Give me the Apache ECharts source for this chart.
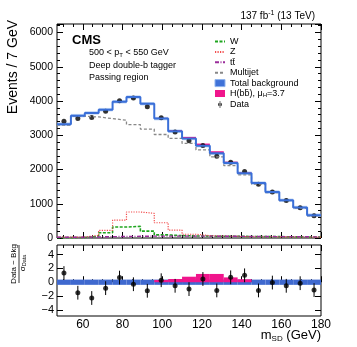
<!DOCTYPE html>
<html>
<head>
<meta charset="utf-8">
<script src="https://cdn.jsdelivr.net/npm/echarts@6/dist/echarts.min.js"></script>
<style>
  html, body { margin: 0; padding: 0; background: #fff; }
  #chart { width: 357px; height: 347px; }
</style>
</head>
<body>
<div id="chart"></div>
<script>
// m_SD bins, 7 GeV wide
const massEdges = [47, 54, 61, 68, 75, 82, 89, 96, 103, 110, 117, 124, 131, 138, 145, 152, 159, 166, 173, 180];
const massCenters = [50.5, 57.5, 64.5, 71.5, 78.5, 85.5, 92.5, 99.5, 106.5, 113.5, 120.5, 127.5, 134.5, 141.5, 148.5, 155.5, 162.5, 169.5, 176.5];

// events per bin
const totalBkg = [3325, 3574, 3652, 3748, 3980, 4116, 3922, 3487, 3120, 2907, 2696, 2473, 2194, 1893, 1603, 1342, 1101, 890, 667];
const bkgUnc   = [50, 50, 50, 50, 50, 50, 50, 50, 50, 50, 50, 50, 50, 50, 50, 50, 50, 50, 50];
const multijet = [3295, 3557, 3536, 3487, 3440, 3313, 3180, 3023, 2907, 2762, 2571, 2368, 2116, 1846, 1574, 1325, 1093, 870, 646];
const wJets    = [10, 15, 50, 155, 320, 340, 200, 90, 70, 60, 55, 50, 50, 45, 40, 40, 35, 30, 30];
const zJets    = [25, 30, 75, 225, 520, 760, 720, 445, 230, 110, 70, 55, 45, 40, 40, 35, 30, 30, 25];
const ttbar    = [20, 25, 30, 40, 45, 50, 55, 55, 55, 55, 55, 50, 50, 45, 45, 40, 40, 35, 30];
const signal   = [0, 0, 0, 0, 0, 0, 0, 20, 28, 45, 62, 60, 35, 20, 0, 0, 0, 0, 0];
const dataEvents = [3410, 3488, 3517, 3700, 4010, 4090, 3830, 3510, 3095, 2840, 2700, 2390, 2215, 1940, 1570, 1340, 1095, 880, 650];

// (data - bkg) / sigma_data
const dataPull   = [1.33, -1.52, -2.29, -0.86, 0.67, -0.29, -1.24, 0.29, -0.52, -1.0, 0.47, -1.19, 0.71, 1.0, -1.19, -0.05, -0.52, -0.14, -1.14];
const pullError  = [1, 1, 1, 1, 1, 1, 1, 1, 1, 1, 1, 1, 1, 1, 1, 1, 1, 1, 1];
const signalPull = [0, 0, 0, 0, 0, 0, 0, 0.33, 0.47, 0.8, 1.2, 1.2, 0.7, 0.43, 0, 0, 0, 0, 0];
const bkgUncPull = [0.38, 0.38, 0.38, 0.38, 0.38, 0.38, 0.38, 0.38, 0.38, 0.38, 0.38, 0.38, 0.38, 0.38, 0.38, 0.38, 0.38, 0.38, 0.38];

// ticks
const xMajor = [60, 80, 100, 120, 140, 160, 180];
const xMinor = [50, 55, 65, 70, 75, 85, 90, 95, 105, 110, 115, 125, 130, 135, 145, 150, 155, 165, 170, 175];
const pullTicks = [-4, -2, 0, 2, 4];

const FONT = 'Liberation Sans, Arial, Helvetica, sans-serif';
const SIG_NAME = 'H(bb\u0304), \u03bcH=3.7';
const TT_NAME = 'tt\u0304';

function stepPoints(values) {
  const pts = values.map((v, i) => [massEdges[i], v]);
  pts.push([massEdges[massEdges.length - 1], values[values.length - 1]]);
  return pts;
}

function boxes(lo, hi) {
  return lo.map((l, i) => [massEdges[i], massEdges[i + 1], l, hi[i]]);
}

function boxRenderer(color) {
  return function (params, api) {
    const a = api.coord([api.value(0), api.value(3)]);
    const b = api.coord([api.value(1), api.value(2)]);
    return {
      type: 'rect',
      shape: { x: a[0], y: a[1], width: b[0] - a[0], height: b[1] - a[1] },
      style: { fill: color }
    };
  };
}

function errorBar(params, api) {
  const x = api.value(0), y = api.value(1), e = api.value(2);
  const top = api.coord([x, y + e]);
  const bot = api.coord([x, y - e]);
  return {
    type: 'line',
    shape: { x1: top[0], y1: top[1], x2: bot[0], y2: bot[1] },
    style: { stroke: '#000', lineWidth: 1 }
  };
}

function tick(values, len) {
  return { show: true, inside: true, length: len, customValues: values, lineStyle: { color: '#000', width: 1 } };
}

function xAxesFor(grid, labels) {
  const base = { type: 'value', gridIndex: grid, min: 47, max: 180, splitLine: { show: false }, axisLine: { show: false } };
  return [
    Object.assign({}, base, {
      position: 'bottom', axisTick: tick(xMajor, 6),
      axisLabel: labels
        ? { show: true, customValues: xMajor, fontSize: 12, margin: 3, color: '#000', fontFamily: FONT }
        : { show: false }
    }),
    Object.assign({}, base, { position: 'bottom', axisTick: tick(xMinor, 3), axisLabel: { show: false } }),
    Object.assign({}, base, { position: 'top', axisTick: tick(xMajor, 6), axisLabel: { show: false } }),
    Object.assign({}, base, { position: 'top', axisTick: tick(xMinor, 3), axisLabel: { show: false } })
  ];
}

function eventsAxis(pos, labels) {
  return {
    type: 'value', gridIndex: 0, position: pos, min: 0, max: 6250, interval: 1000,
    splitLine: { show: false }, axisLine: { show: false },
    axisTick: { show: true, inside: true, length: 6, lineStyle: { color: '#000' } },
    minorTick: { show: true, splitNumber: 5, length: 3, lineStyle: { color: '#000' } },
    axisLabel: labels
      ? { show: true, fontSize: 10.5, margin: 4, color: '#000', fontFamily: FONT, showMaxLabel: false,
          formatter: v => String(v) }
      : { show: false }
  };
}

function pullAxis(pos, labels) {
  return {
    type: 'value', gridIndex: 1, position: pos, min: -4.9, max: 5.4,
    splitLine: { show: false }, axisLine: { show: false },
    axisTick: tick(pullTicks, 6),
    axisLabel: labels
      ? { show: true, customValues: pullTicks, fontSize: 11, margin: 3, color: '#000', fontFamily: FONT,
          formatter: v => String(v).replace('-', '\u2212') }
      : { show: false }
  };
}

const lineBase = { type: 'line', xAxisIndex: 0, yAxisIndex: 0, step: 'end', symbol: 'none', silent: true };
const hiddenDot = { color: 'rgba(0,0,0,0)', borderWidth: 0, opacity: 0 };

const option = {
  animation: false,
  backgroundColor: '#fff',
  grid: [
    { left: 57, right: 36, top: 24, height: 214, show: true, borderColor: '#000', borderWidth: 1, backgroundColor: 'transparent', outerBoundsMode: 'none' },
    { left: 57, right: 36, top: 245, height: 71, show: true, borderColor: '#000', borderWidth: 1, backgroundColor: 'transparent', outerBoundsMode: 'none' }
  ],
  xAxis: xAxesFor(0, false).concat(xAxesFor(1, true)),
  yAxis: [eventsAxis('left', true), eventsAxis('right', false), pullAxis('left', true), pullAxis('right', false)],
  legend: {
    orient: 'vertical', left: 214, top: 37, padding: 0,
    itemWidth: 10, itemHeight: 7, itemGap: 1.4, selectedMode: false,
    textStyle: {
      fontFamily: FONT, fontSize: 9, color: '#000',
      rich: {
        t: { fontFamily: FONT, fontSize: 9, lineHeight: 10, color: '#000' },
        s: { fontFamily: FONT, fontSize: 6, lineHeight: 6, verticalAlign: 'bottom', color: '#000' }
      }
    },
    formatter: name => name === SIG_NAME ? '{t|H(bb\u0304), \u03bc}{s|H}{t|=3.7}' : '{t|' + name + '}',
    data: [
      { name: 'W', itemStyle: hiddenDot },
      { name: 'Z', itemStyle: hiddenDot },
      { name: TT_NAME, itemStyle: hiddenDot },
      { name: 'Multijet', itemStyle: hiddenDot },
      { name: 'Total background', icon: 'rect', itemStyle: { color: '#3f72d8', borderColor: '#8fb3ee', borderWidth: 1 } },
      { name: SIG_NAME, icon: 'rect', itemStyle: { color: '#f0158c' } },
      { name: 'Data', icon: 'path://M-0.35,-3.5h0.7v7h-0.7z M0,-2a2,2 0 1,0 0.001,0z', itemStyle: { color: '#000' } }
    ]
  },
  graphic: [
    { type: 'text', x: 315, y: 16, style: {
        text: '{n|137 fb}{p|-1}{n| (13 TeV)}', align: 'right', textAlign: 'right', verticalAlign: 'middle', textVerticalAlign: 'middle',
        rich: {
          n: { fontFamily: FONT, fontSize: 10, lineHeight: 12, fill: '#000' },
          p: { fontFamily: FONT, fontSize: 7, lineHeight: 7, verticalAlign: 'top', fill: '#000' }
        } } },
    { type: 'text', x: 72, y: 40, style: {
        text: 'CMS', font: 'bold 13px ' + FONT, fill: '#000',
        verticalAlign: 'middle', textVerticalAlign: 'middle' } },
    { type: 'text', x: 89, y: 53, style: {
        text: '{n|500 < p}{s|T}{n| < 550 GeV}', verticalAlign: 'middle', textVerticalAlign: 'middle',
        rich: {
          n: { fontFamily: FONT, fontSize: 9, lineHeight: 10, fill: '#000' },
          s: { fontFamily: FONT, fontSize: 6, lineHeight: 6, verticalAlign: 'bottom', fill: '#000' }
        } } },
    { type: 'text', x: 89, y: 65.5, style: {
        text: 'Deep double-b tagger', font: '9px ' + FONT, fill: '#000',
        verticalAlign: 'middle', textVerticalAlign: 'middle' } },
    { type: 'text', x: 89, y: 77.5, style: {
        text: 'Passing region', font: '9px ' + FONT, fill: '#000',
        verticalAlign: 'middle', textVerticalAlign: 'middle' } },
    { type: 'text', x: 13, y: 20, rotation: Math.PI / 2, style: {
        text: 'Events / 7 GeV', font: '14px ' + FONT, fill: '#000',
        align: 'right', textAlign: 'right', verticalAlign: 'middle', textVerticalAlign: 'middle' } },
    { type: 'text', x: 321, y: 335, style: {
        text: '{n|m}{s|SD}{n| (GeV)}', align: 'right', textAlign: 'right', verticalAlign: 'middle', textVerticalAlign: 'middle',
        rich: {
          n: { fontFamily: FONT, fontSize: 13, lineHeight: 15, fill: '#000' },
          s: { fontFamily: FONT, fontSize: 8, lineHeight: 8, verticalAlign: 'bottom', fill: '#000' }
        } } },
    { type: 'text', x: 13.5, y: 264, rotation: Math.PI / 2, style: {
        text: 'Data \u2212 Bkg', font: '8px ' + FONT, fill: '#000',
        align: 'center', textAlign: 'center', verticalAlign: 'middle', textVerticalAlign: 'middle' } },
    { type: 'line', shape: { x1: 19, y1: 245, x2: 19, y2: 283 }, style: { stroke: '#000', lineWidth: 0.8 } },
    { type: 'text', x: 23, y: 263, rotation: Math.PI / 2, style: {
        text: '{n|\u03c3}{s|Data}', align: 'center', textAlign: 'center', verticalAlign: 'middle', textVerticalAlign: 'middle',
        rich: {
          n: { fontFamily: FONT, fontSize: 8, lineHeight: 9, fill: '#000' },
          s: { fontFamily: FONT, fontSize: 5.5, lineHeight: 5.5, verticalAlign: 'bottom', fill: '#000' }
        } } }
  ],
  series: [
    // top panel
    {
      type: 'custom', name: 'bkg band', xAxisIndex: 0, yAxisIndex: 0, silent: true,
      renderItem: boxRenderer('rgba(120,165,235,0.5)'), encode: { x: [0, 1], y: [2, 3] },
      data: boxes(totalBkg.map((v, i) => v - bkgUnc[i]), totalBkg.map((v, i) => v + bkgUnc[i]))
    },
    Object.assign({}, lineBase, { name: 'Multijet', data: stepPoints(multijet),
      lineStyle: { color: '#888', width: 1.3, type: [3, 2] }, itemStyle: { color: '#888' } }),
    Object.assign({}, lineBase, { name: 'W', data: stepPoints(wJets),
      lineStyle: { color: '#1fa51f', width: 1.6, type: [3, 1.5] }, itemStyle: { color: '#1fa51f' } }),
    Object.assign({}, lineBase, { name: 'Z', data: stepPoints(zJets),
      lineStyle: { color: '#f24d4d', width: 1.2, type: [1.2, 1.3] }, itemStyle: { color: '#f24d4d' } }),
    Object.assign({}, lineBase, { name: TT_NAME, data: stepPoints(ttbar),
      lineStyle: { color: '#9b2d9b', width: 1.4, type: [4, 1.5, 1, 1.5] }, itemStyle: { color: '#9b2d9b' } }),
    Object.assign({}, lineBase, { name: 'Total background', data: stepPoints(totalBkg),
      lineStyle: { color: '#3a6fd8', width: 2 }, itemStyle: { color: '#3a6fd8' } }),
    {
      type: 'custom', name: SIG_NAME, xAxisIndex: 0, yAxisIndex: 0, silent: true,
      renderItem: boxRenderer('#f0158c'), encode: { x: [0, 1], y: [2, 3] }, itemStyle: { color: '#f0158c' },
      data: boxes(totalBkg, totalBkg.map((v, i) => v + signal[i]))
    },
    {
      type: 'scatter', name: 'Data', xAxisIndex: 0, yAxisIndex: 0, silent: true,
      symbol: 'circle', symbolSize: 5, itemStyle: { color: '#000' },
      data: massCenters.map((m, i) => [m, dataEvents[i]])
    },
    // ratio panel
    {
      type: 'custom', name: 'pull band', xAxisIndex: 4, yAxisIndex: 2, silent: true,
      renderItem: boxRenderer('#3f69cf'), encode: { x: [0, 1], y: [2, 3] },
      data: boxes(bkgUncPull.map(v => -v), bkgUncPull)
    },
    {
      type: 'custom', name: 'signal pull', xAxisIndex: 4, yAxisIndex: 2, silent: true,
      renderItem: boxRenderer('#f0158c'), encode: { x: [0, 1], y: [2, 3] },
      data: boxes(signalPull.map(() => 0), signalPull)
    },
    {
      type: 'custom', name: 'pull errors', xAxisIndex: 4, yAxisIndex: 2, silent: true,
      renderItem: errorBar, encode: { x: 0, y: 1 },
      data: massCenters.map((m, i) => [m, dataPull[i], pullError[i]])
    },
    {
      type: 'scatter', name: 'pull points', xAxisIndex: 4, yAxisIndex: 2, silent: true,
      symbol: 'circle', symbolSize: 5, itemStyle: { color: '#000' },
      data: massCenters.map((m, i) => [m, dataPull[i]])
    }
  ]
};

const chart = echarts.init(document.getElementById('chart'), null, { renderer: 'canvas' });
chart.setOption(option);
</script>
</body>
</html>
